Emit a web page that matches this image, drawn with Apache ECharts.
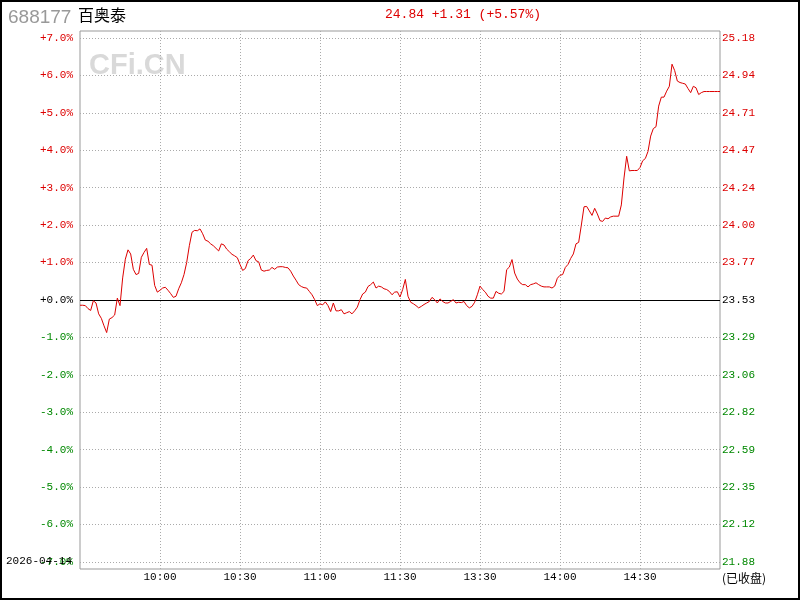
<!DOCTYPE html>
<html>
<head>
<meta charset="utf-8">
<script src="https://cdn.jsdelivr.net/npm/echarts@6/dist/echarts.min.js"></script>
<style>html,body{margin:0;padding:0;background:#fff;}#c{width:800px;height:600px;}</style>
</head>
<body>
<div id="c"></div>
<script>
// intraday change (%) per minute, 9:30..11:30 (121 pts) + 13:01..15:00 (120 pts)
var pctValues = [
-0.14,-0.14,-0.15,-0.23,-0.28,-0.02,-0.08,-0.37,-0.49,-0.69,
-0.87,-0.51,-0.47,-0.40,0.05,-0.15,0.59,1.09,1.34,1.23,
0.82,0.68,0.71,1.14,1.27,1.38,0.95,0.93,0.39,0.21,
0.26,0.32,0.34,0.26,0.17,0.07,0.10,0.30,0.46,0.68,
1.00,1.45,1.81,1.86,1.85,1.90,1.77,1.60,1.57,1.50,
1.45,1.38,1.31,1.50,1.47,1.36,1.29,1.22,1.18,1.13,
0.95,0.79,0.84,1.05,1.11,1.20,1.05,1.02,0.80,0.77,
0.79,0.80,0.87,0.82,0.88,0.89,0.89,0.87,0.86,0.77,
0.64,0.53,0.41,0.36,0.33,0.32,0.23,0.14,0.01,-0.15,
-0.10,-0.13,-0.05,-0.15,-0.31,-0.08,-0.29,-0.29,-0.26,-0.37,
-0.34,-0.31,-0.37,-0.29,-0.19,0.01,0.16,0.21,0.36,0.41,
0.48,0.32,0.37,0.35,0.30,0.28,0.23,0.14,0.21,0.22,
0.08,0.28,0.55,0.10,-0.06,-0.10,-0.15,-0.21,-0.17,-0.12,
-0.08,-0.04,0.07,0.01,-0.08,0.03,-0.04,-0.08,-0.08,-0.04,
0.01,-0.08,-0.06,-0.07,-0.04,-0.15,-0.21,-0.17,-0.06,0.14,
0.37,0.28,0.21,0.10,0.05,0.05,0.23,0.18,0.16,0.23,
0.81,0.88,1.08,0.72,0.56,0.46,0.41,0.41,0.35,0.41,
0.43,0.46,0.41,0.37,0.35,0.35,0.35,0.32,0.37,0.58,
0.66,0.68,0.87,0.95,1.11,1.23,1.50,1.54,2.00,2.49,
2.50,2.38,2.26,2.45,2.30,2.12,2.10,2.19,2.17,2.22,
2.24,2.24,2.24,2.54,3.26,3.84,3.45,3.46,3.46,3.46,
3.54,3.72,3.78,3.97,4.38,4.58,4.63,5.18,5.42,5.42,
5.58,5.71,6.30,6.13,5.85,5.81,5.79,5.77,5.65,5.54,
5.71,5.67,5.49,5.54,5.57,5.57,5.57,5.57,5.57,5.57,
5.57
];
var pctLabels = ['-7.0%','-6.0%','-5.0%','-4.0%','-3.0%','-2.0%','-1.0%','+0.0%','+1.0%','+2.0%','+3.0%','+4.0%','+5.0%','+6.0%','+7.0%'];
var priceLabels = ['21.88','22.12','22.35','22.59','22.82','23.06','23.29','23.53','23.77','24.00','24.24','24.47','24.71','24.94','25.18'];
var timeTickLabels = ['10:00','10:30','11:00','11:30','13:30','14:00','14:30'];
var stockCode = '688177';
var stockName = '百奥泰';
var quoteText = '24.84 +1.31 (+5.57%)';
var dateText = '2026-04-14';
var statusText = '(已收盘)';

var times = [];
function pad(n){return (n<10?'0':'')+n;}
for (var m = 0; m <= 120; m++) { var t = 9*60+30+m; times.push(pad(Math.floor(t/60))+':'+pad(t%60)); }
for (var m2 = 1; m2 <= 120; m2++) { var t2 = 13*60+m2; times.push(pad(Math.floor(t2/60))+':'+pad(t2%60)); }

var RED = '#dd0000', GREEN = '#008800';
var MONO = '"Liberation Mono", "DejaVu Sans Mono", monospace';
function lblColor(v){ v = Math.round(Number(v)); return v > 0 ? RED : (v < 0 ? GREEN : '#000'); }
function isTick(idx){ return idx > 0 && idx < 240 && idx % 30 === 0; }

var chart = echarts.init(document.getElementById('c'), null, {renderer:'canvas'});
chart.setOption({
  animation: false,
  backgroundColor: '#fff',
  title: [
    {text: stockCode, left: 8, top: 8, padding: 0, textStyle:{color:'#999', fontSize:19, fontWeight:'normal', fontFamily:'"Liberation Sans", Arial, sans-serif'}},
    {text: stockName, left: 78, top: 7, padding: 0, textStyle:{color:'#000', fontSize:16, fontWeight:'normal', fontFamily:'"Noto Sans CJK SC", sans-serif'}},
    {text: quoteText, left: 385, top: 8, padding: 0, textStyle:{color:RED, fontSize:13, fontWeight:'normal', fontFamily:MONO}}
  ],
  graphic: [
    {type:'rect', shape:{x:1, y:1, width:798, height:598}, style:{fill:'none', stroke:'#000', lineWidth:2}, silent:true, z:100},
    {type:'text', left: 89, top: 51, style:{text:'CFi.CN', fill:'#d9d9d9', font:'bold 29px "Liberation Sans", Arial, sans-serif'}, silent:true, z:0},
    {type:'text', left: 6, top: 556, style:{text:dateText, fill:'#000', font:'11px ' + MONO}, z:50},
    {type:'text', left: 722, top: 572, style:{text:statusText, fill:'#000', font:'12px "Noto Sans CJK SC", sans-serif'}}
  ],
  grid: [
    {left:80, right:80, top:38, bottom:38, containLabel:false},
    {left:80, right:80, top:31, bottom:31, show:true, borderColor:'#999', borderWidth:1, backgroundColor:'transparent'}
  ],
  xAxis: [
    {type:'category', gridIndex:0, data:times, boundaryGap:false,
     axisLine:{show:false}, axisTick:{show:false}, splitLine:{show:false},
     axisLabel:{show:true, interval:function(i){return isTick(i);}, margin:10, color:'#000', fontSize:11, fontFamily:MONO,
       formatter:function(v, i){ return isTick(i) ? timeTickLabels[i/30 - 1] : ''; }}},
    {type:'category', gridIndex:1, data:times, boundaryGap:false,
     axisLine:{show:false}, axisTick:{show:false}, axisLabel:{show:false},
     splitLine:{show:true, interval:function(i){return isTick(i);}, lineStyle:{color:'#aaa', type:[1,2], width:1}}}
  ],
  yAxis: [
    {type:'value', gridIndex:0, position:'left', min:-7, max:7, interval:1,
     axisLine:{show:false}, axisTick:{show:false},
     splitLine:{show:true, lineStyle:{color:'#aaa', type:[1,2], width:1}},
     axisLabel:{margin:7, fontSize:11, fontFamily:MONO, color:lblColor,
       formatter:function(v){ return pctLabels[Math.round(v)+7]; }}},
    {type:'value', gridIndex:0, position:'right', min:-7, max:7, interval:1,
     axisLine:{show:false}, axisTick:{show:false}, splitLine:{show:false},
     axisLabel:{margin:2, fontSize:11, fontFamily:MONO, color:lblColor,
       formatter:function(v){ return priceLabels[Math.round(v)+7]; }}},
    {type:'value', gridIndex:1, min:0, max:1, show:false}
  ],
  series: [{
    type:'line', xAxisIndex:0, yAxisIndex:0, data:pctValues, showSymbol:false, symbol:'none',
    lineStyle:{color:RED, width:1}, z:5,
    markLine:{silent:true, symbol:'none', label:{show:false}, lineStyle:{color:'#000', type:'solid', width:1},
      data:[{yAxis:0}]}
  }]
});
</script>
</body>
</html>
